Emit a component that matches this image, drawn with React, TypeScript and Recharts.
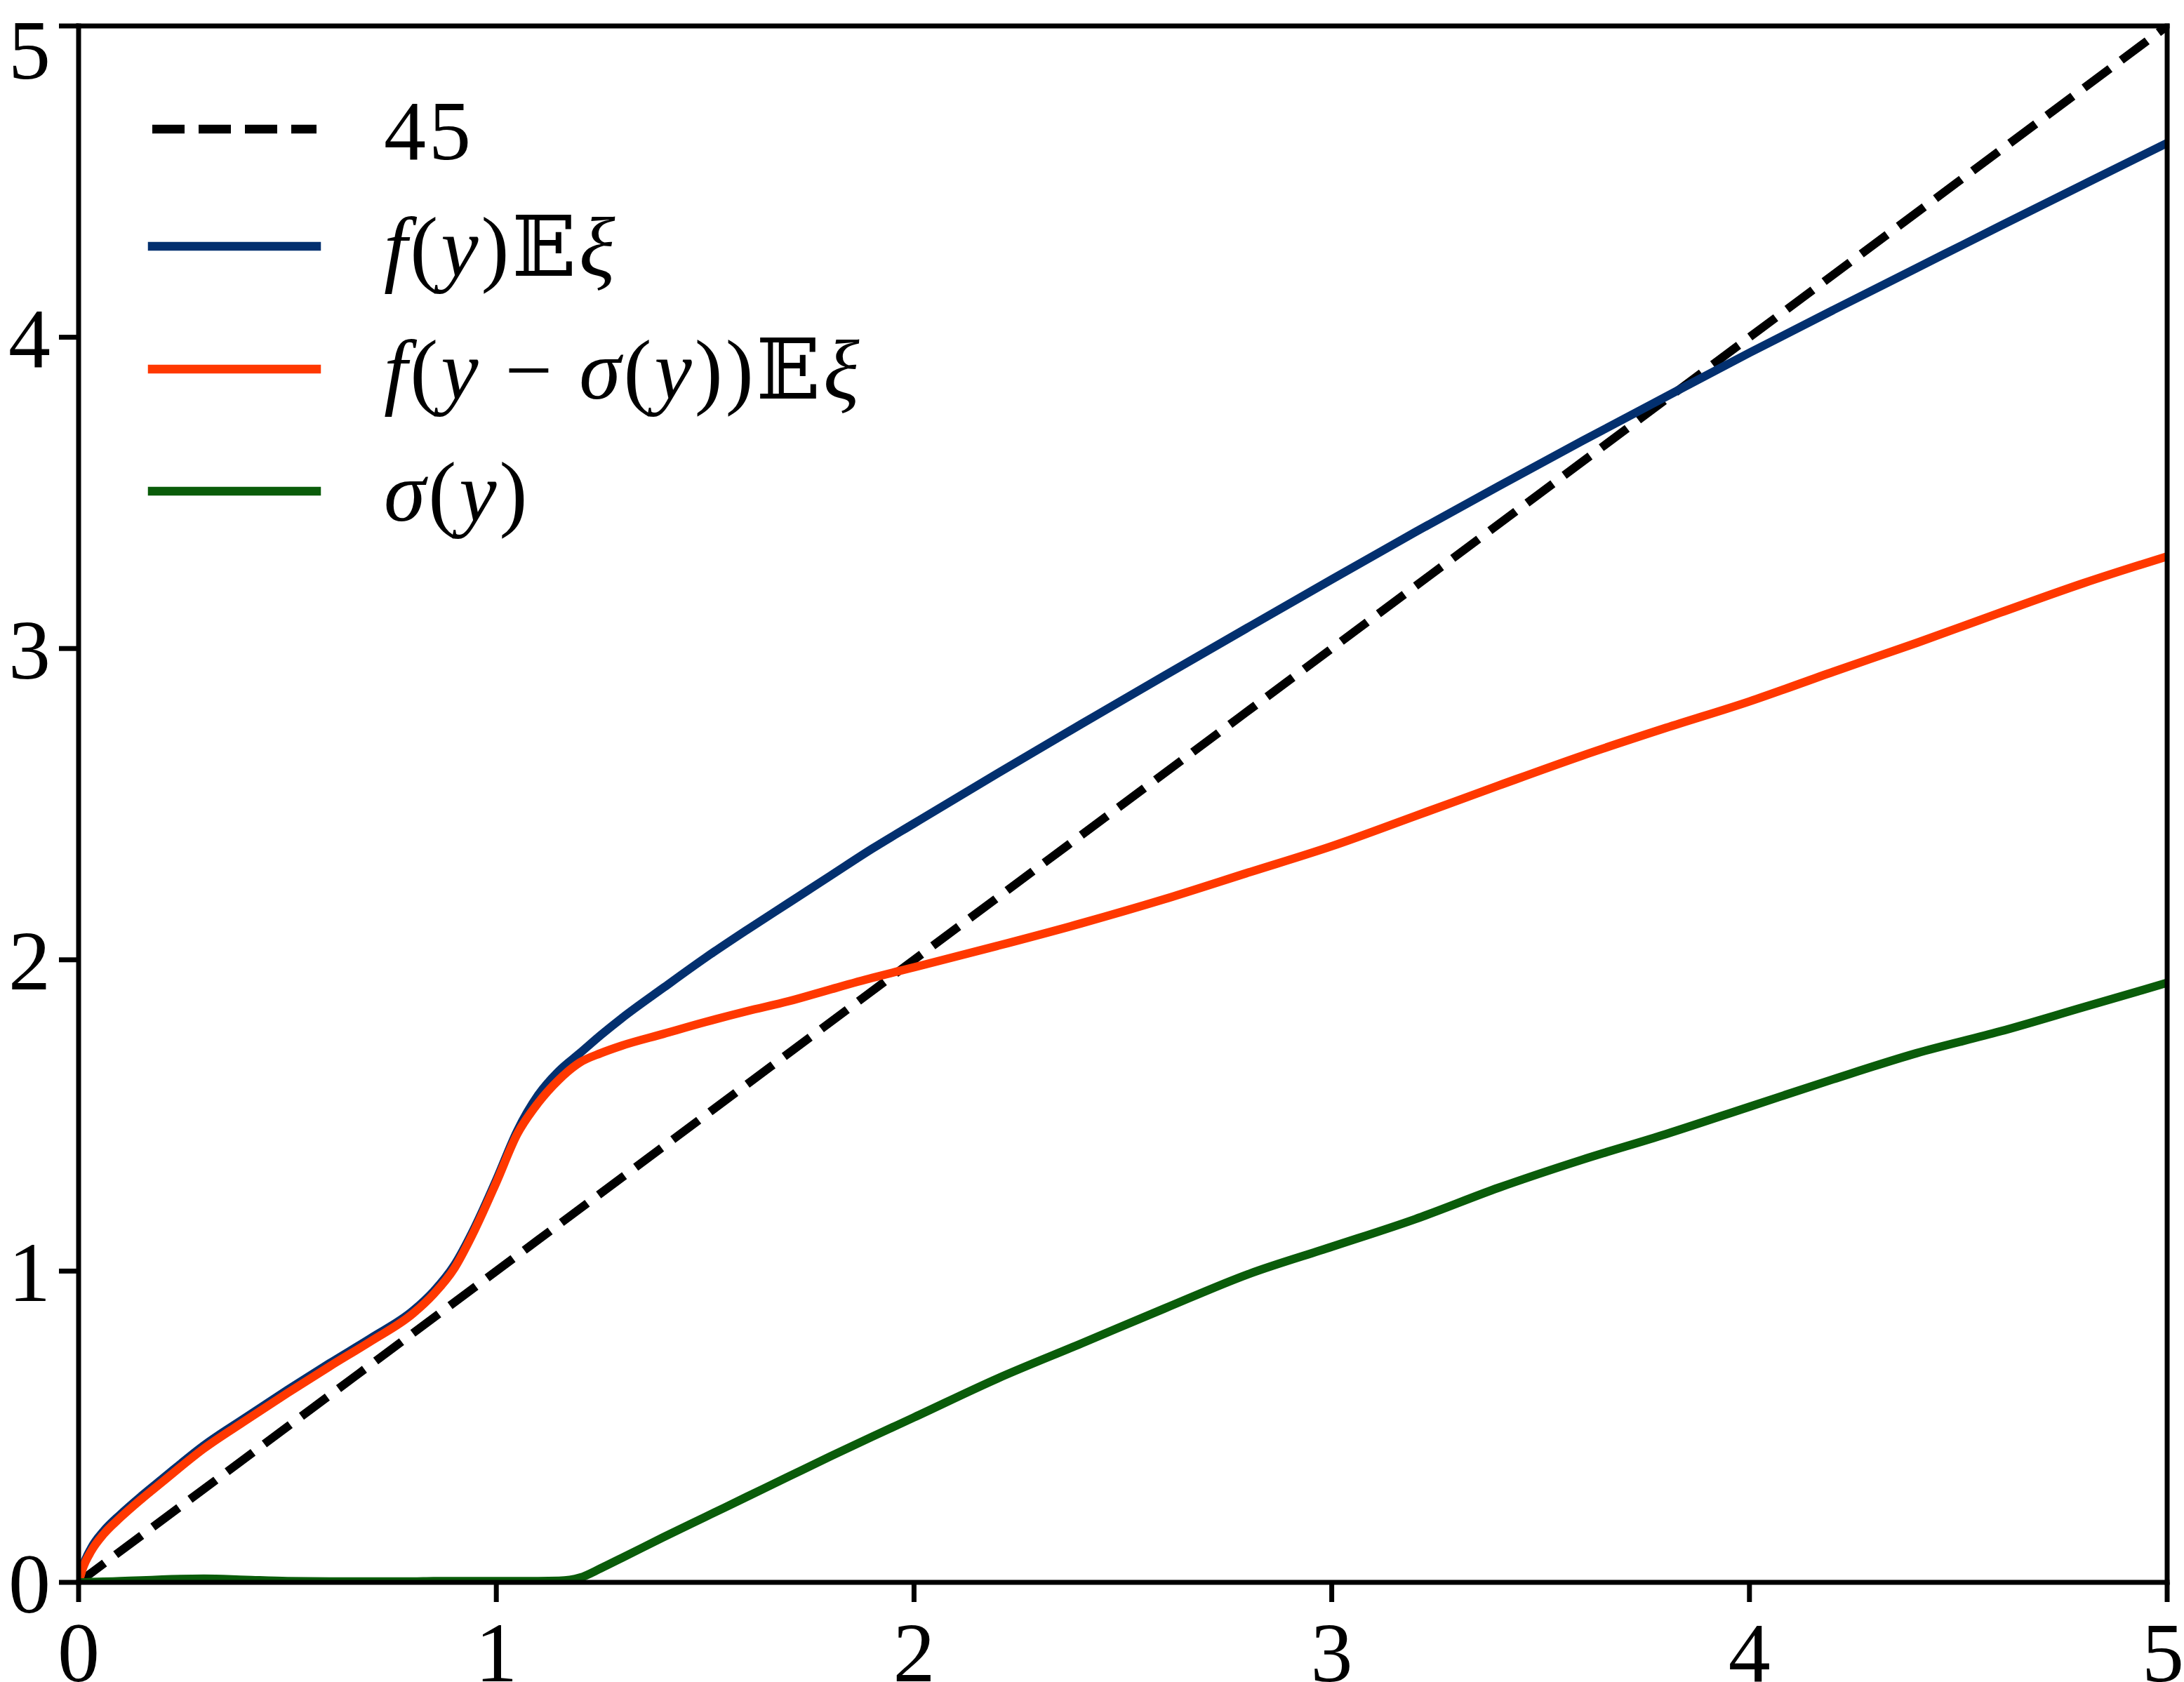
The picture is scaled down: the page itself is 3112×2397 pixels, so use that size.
import { LineChart, Line, XAxis, YAxis, ReferenceLine, Legend } from "recharts"

// sample points along the horizontal axis (y)
const xGrid = [
  0, 0.01, 0.03, 0.06, 0.1, 0.15, 0.2, 0.3, 0.4, 0.5, 0.6, 0.7, 0.8, 0.85, 0.9,
  0.95, 1.0, 1.05, 1.1, 1.15, 1.2, 1.25, 1.3, 1.4, 1.5, 1.6, 1.7, 1.8, 1.9, 2.0,
  2.2, 2.4, 2.6, 2.8, 3.0, 3.2, 3.4, 3.6, 3.8, 4.0, 4.2, 4.4, 4.6, 4.8, 5.0,
]

// f(y)E xi
const fEXi = [
  0.0, 0.05, 0.11, 0.165, 0.218, 0.277, 0.332, 0.44, 0.53, 0.618, 0.703, 0.785,
  0.872, 0.935, 1.02, 1.145, 1.293, 1.45, 1.565, 1.643, 1.7, 1.758, 1.812, 1.91,
  2.006, 2.096, 2.183, 2.27, 2.357, 2.438, 2.599, 2.757, 2.913, 3.068, 3.222,
  3.374, 3.522, 3.667, 3.809, 3.95, 4.087, 4.222, 4.357, 4.491, 4.624,
]

// f(y - sigma(y))E xi
const fShiftEXi = [
  0.0, 0.045, 0.1, 0.155, 0.208, 0.267, 0.322, 0.43, 0.52, 0.608, 0.693, 0.775,
  0.863, 0.926, 1.01, 1.137, 1.285, 1.44, 1.54, 1.615, 1.67, 1.7, 1.724, 1.762,
  1.8, 1.835, 1.867, 1.905, 1.942, 1.976, 2.045, 2.117, 2.195, 2.28, 2.365,
  2.462, 2.56, 2.656, 2.745, 2.83, 2.925, 3.018, 3.115, 3.21, 3.296,
]

// sigma(y)
const sigma = [
  0, 0, 0.001, 0.002, 0.004, 0.006, 0.009, 0.012, 0.008, 0.004, 0.003, 0.003,
  0.003, 0.004, 0.004, 0.004, 0.004, 0.004, 0.004, 0.005, 0.015, 0.045, 0.078,
  0.145, 0.21, 0.275, 0.34, 0.405, 0.468, 0.53, 0.655, 0.767, 0.88, 0.99, 1.078,
  1.167, 1.268, 1.358, 1.44, 1.528, 1.616, 1.7, 1.77, 1.848, 1.926,
]

// 45 degree line
const diagX = [0, 5]
const diagY = [0, 5]

const xTicks = [0, 1, 2, 3, 4, 5]
const yTicks = [0, 1, 2, 3, 4, 5]

const FONT = "'Liberation Serif', 'DejaVu Serif', serif"
const BLUE = "#03306f"
const ORANGE = "#ff3800"
const GREEN = "#0a5c0a"

const toPoints = (xs: number[], ys: number[]) => xs.map((x, i) => ({ x, y: ys[i] }))

function LegendBox() {
  const rows = [184, 351, 526, 700]
  const textX = 547
  const it = { fontStyle: "italic" as const }
  return (
    <svg width={1400} height={800} style={{ display: "block" }}>
      <line x1={217} x2={451} y1={rows[0]} y2={rows[0]} stroke="#000" strokeWidth={12.5} strokeDasharray="46 20" />
      <line x1={217} x2={451} y1={rows[1]} y2={rows[1]} stroke={BLUE} strokeWidth={12.5} strokeLinecap="square" />
      <line x1={217} x2={451} y1={rows[2]} y2={rows[2]} stroke={ORANGE} strokeWidth={12.5} strokeLinecap="square" />
      <line x1={217} x2={451} y1={rows[3]} y2={rows[3]} stroke={GREEN} strokeWidth={12.5} strokeLinecap="square" />
      <g fontFamily={FONT} fontSize={120} fill="#000" letterSpacing={4}>
        <text x={textX} y={rows[0] + 43}>45</text>
        <text x={textX} y={rows[1] + 42}>
          <tspan {...it}>f</tspan>
          <tspan>(</tspan>
          <tspan {...it}>y</tspan>
          <tspan>)𝔼</tspan>
          <tspan {...it}>ξ</tspan>
        </text>
        <text x={textX} y={rows[2] + 42}>
          <tspan {...it}>f</tspan>
          <tspan>(</tspan>
          <tspan {...it}>y</tspan>
          <tspan> − </tspan>
          <tspan {...it}>σ</tspan>
          <tspan>(</tspan>
          <tspan {...it}>y</tspan>
          <tspan>))𝔼</tspan>
          <tspan {...it}>ξ</tspan>
        </text>
        <text x={textX} y={rows[3] + 42}>
          <tspan {...it}>σ</tspan>
          <tspan>(</tspan>
          <tspan {...it}>y</tspan>
          <tspan>)</tspan>
        </text>
      </g>
    </svg>
  )
}

export default function App() {
  const tickStyle = { fill: "#000", fontSize: 120, fontFamily: FONT }
  const lineStyle = { stroke: "#000", strokeWidth: 7 }

  return (
    <div style={{ position: "absolute", left: 0, top: 0, width: 3112, height: 2397, background: "#fff" }}>
      <LineChart width={3112} height={2397} margin={{ top: 37, right: 24, bottom: 0, left: 0 }}>
        <XAxis
          type="number"
          dataKey="x"
          domain={[0, 5]}
          ticks={xTicks}
          allowDataOverflow
          height={142}
          tick={tickStyle}
          tickSize={28}
          tickMargin={28}
          tickLine={lineStyle}
          axisLine={{ ...lineStyle, strokeLinecap: "square" }}
        />
        <YAxis
          type="number"
          dataKey="y"
          domain={[0, 5]}
          ticks={yTicks}
          allowDataOverflow
          width={112}
          tick={tickStyle}
          tickSize={28}
          tickMargin={12}
          tickLine={lineStyle}
          axisLine={{ ...lineStyle, strokeLinecap: "square" }}
        />
        <Legend
          layout="horizontal"
          verticalAlign="middle"
          align="center"
          wrapperStyle={{ left: 0, top: 0, width: 1400, height: 800 }}
          content={() => <LegendBox />}
        />
        <Line
          data={toPoints(diagX, diagY)}
          dataKey="y"
          type="linear"
          stroke="#000"
          strokeWidth={12}
          strokeDasharray="46 20"
          dot={false}
          activeDot={false}
          isAnimationActive={false}
        />
        <Line
          data={toPoints(xGrid, fEXi)}
          dataKey="y"
          type="monotone"
          stroke={BLUE}
          strokeWidth={12}
          dot={false}
          activeDot={false}
          isAnimationActive={false}
        />
        <Line
          data={toPoints(xGrid, fShiftEXi)}
          dataKey="y"
          type="monotone"
          stroke={ORANGE}
          strokeWidth={12}
          dot={false}
          activeDot={false}
          isAnimationActive={false}
        />
        <Line
          data={toPoints(xGrid, sigma)}
          dataKey="y"
          type="monotone"
          stroke={GREEN}
          strokeWidth={12}
          dot={false}
          activeDot={false}
          isAnimationActive={false}
        />
        <ReferenceLine y={5} stroke="#000" strokeWidth={7} strokeLinecap="square" ifOverflow="visible" />
        <ReferenceLine x={5} stroke="#000" strokeWidth={7} strokeLinecap="square" ifOverflow="visible" />
      </LineChart>
    </div>
  )
}
